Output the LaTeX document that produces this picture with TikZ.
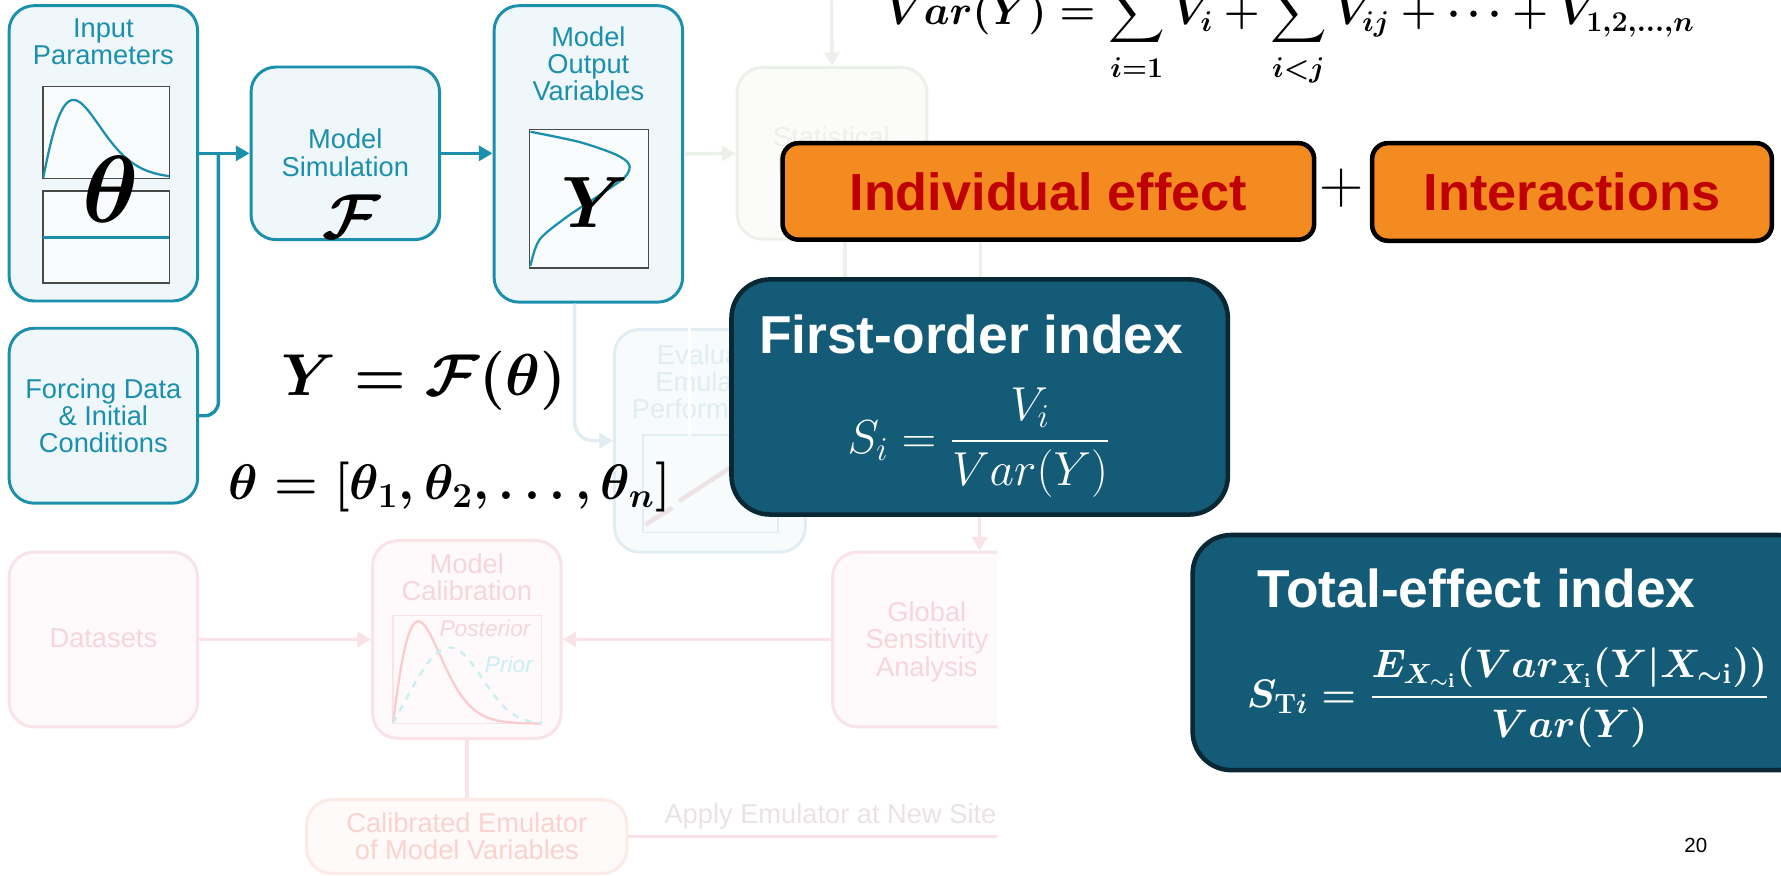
\RequirePackage{fix-cm}
\documentclass[tikz,border=0pt]{standalone}
\usepackage{amsmath}
\usepackage[no-math]{fontspec}
\setsansfont{Liberation Sans}
\usetikzlibrary{arrows.meta,positioning}

\definecolor{tealline}{HTML}{1C8FAD}
\definecolor{tealfill}{HTML}{EFF7FA}
\definecolor{darkfill}{HTML}{135B77}
\definecolor{darkedge}{HTML}{0A2833}
\definecolor{orangefill}{HTML}{F38B20}
\definecolor{redtext}{HTML}{C00000}
\definecolor{plotedge}{HTML}{4A4A4A}
\definecolor{fadepink}{HTML}{F9E3E7}
\definecolor{fadepinktext}{HTML}{F6D6DC}
\definecolor{fadeteal}{HTML}{E0EDF2}
\definecolor{fadegreen}{HTML}{EBF1E8}
\definecolor{fadeorange}{HTML}{FBEAE5}

\newcommand{\bigmath}[2]{{\boldmath\fontsize{#1}{#1}\selectfont$#2$}}

\tikzset{
  tbox/.style={draw=tealline, fill=tealfill, line width=1.3pt, rounded corners=11pt, inner sep=0pt},
  ttext/.style={text=#1, font=\fontsize{12}{12}\selectfont\sffamily, align=center},
  ttext/.default=tealline,
  fadebox/.style={draw=#1, fill=#1!22, line width=1.3pt, rounded corners=11pt, inner sep=0pt},
  tline/.style={draw=tealline, line width=1.5pt},
  tarrow/.style={tline, -{Triangle[length=6pt,width=6.5pt]}},
  farrow/.style={draw=#1, line width=1.5pt, -{Triangle[length=6pt,width=6.5pt]}},
  fline/.style={draw=#1, line width=1.5pt},
  dbox/.style={draw=darkedge, fill=darkfill, line width=2pt, rounded corners=17pt, inner sep=0pt},
  dtitle/.style={text=white, font=\fontsize{23.5}{24}\selectfont\sffamily\bfseries},
  obox/.style={draw=black, fill=orangefill, line width=2pt, rounded corners=7pt, text=redtext,
    font=\fontsize{23}{23}\selectfont\sffamily\bfseries},
}

\begin{document}
\begin{tikzpicture}[x=0.5pt, y=-0.5pt]
\useasboundingbox (0,0) rectangle (1568,771);
\clip (0,0) rectangle (1568,771);

% Faded part of the workflow (cut off on the right)
\begin{scope}
  \clip (0,0) rectangle (878,771);
  % Statistical emulator
  \node[fadebox=fadegreen, minimum width=83.5pt, minimum height=75.5pt] (stat) at (732.5,135) {};
  \node[ttext=fadegreen] (stattxt) at (732,132) {Statistical\\Emulator};
  \coordinate (stattop) at (732,0);
  \draw[farrow=fadegreen] (stattop) -- (stat.north);
  \foreach \x in {744,863}
    \draw[fline=fadegreen] (\x,211) -- (\x,300);
  % Emulator performance
  \node[fadebox=fadeteal, minimum width=84pt, minimum height=98pt] (eval) at (625,388) {};
  \node[ttext=fadeteal] (evaltxt) at (625,336) {Evaluate\\Emulator\\Performance};
  \draw[fadeteal, line width=0.6pt] (566,383) rectangle (685,469);
  \draw[fadepink!80!gray!60, line width=2pt] (568,462) -- (592,447);
  \draw[fadepink!80!gray!60, line width=2pt] (598,441) -- (644,411);
  \draw[white, line width=1.2pt] (607,288) -- (607,384);
  % Bottom row
  \node[fadebox=fadepink, minimum width=83pt, minimum height=77pt] (data) at (91,563) {};
  \node[ttext=fadepinktext] (datatxt) at (91,562) {Datasets};
  \node[fadebox=fadepink, minimum width=83pt, minimum height=87pt] (calib) at (411,563) {};
  \node[ttext=fadepinktext] (calibtxt) at (411,508) {Model\\Calibration};
  \draw[fadepink, line width=0.6pt] (346,542) rectangle (477,637);
  \draw[fadepink!90!red, line width=1pt] plot[domain=0.001:1, samples=70, smooth]
    ({346+131*\x}, {637-90*(\x/0.17)*exp((1-(\x/0.17)^1.5)/1.5)});
  \draw[fadeteal!90!cyan, line width=1pt, dashed] plot[domain=0.001:1, samples=70, smooth]
    ({346+131*\x}, {637-67*(\x/0.38)*exp((1-(\x/0.38)^3)/3)});
  \node[text=fadepinktext, font=\fontsize{10}{10}\selectfont\sffamily\itshape] (post) at (427,553) {Posterior};
  \node[text=fadeteal!90!cyan, font=\fontsize{10}{10}\selectfont\sffamily\itshape] (prior) at (448,585) {Prior};
  \node[fadebox=fadepink, minimum width=83.5pt, minimum height=77pt] (glob) at (816.5,563) {};
  \node[ttext=fadepinktext] (globtxt) at (816,565) {Global\\Sensitivity\\Analysis};
  \node[fadebox=fadeorange, minimum width=141pt, minimum height=32.5pt] (calem) at (411,736.5) {};
  \node[ttext=fadeorange!90!red] (calemtxt) at (411,736.5) {Calibrated Emulator\\of Model Variables};
  \node[ttext=fadepink!70!gray!50, anchor=west] (apply) at (578,719) {Apply Emulator at New Site};
  % Faded connectors
  \draw[farrow=fadepink] (data.east) -- (calib.west);
  \draw[farrow=fadepink] (glob.west) -- (calib.east);
  \draw[farrow=fadepink] ([xshift=23pt]glob.north |- 0,453) -- ([xshift=23pt]glob.north);
  \draw[fline=fadepink] (calib.south) -- (calem.north);
  \draw[fline=fadepink] (calem.east) -- ++(330,0);
\end{scope}

% Model chain
\node[tbox, minimum width=83pt, minimum height=130pt] (inp) at (91,135) {};
\node[ttext] (inptxt) at (91,37) {Input\\Parameters};
\node[tbox, minimum width=83pt, minimum height=77pt] (forc) at (91,366) {};
\node[ttext] (forctxt) at (91,366) {Forcing Data\\\& Initial\\Conditions};
\node[tbox, minimum width=83pt, minimum height=76pt] (sim) at (304,135) {};
\node[ttext] (simtxt) at (304,134.5) {Model\\Simulation};
\node (simF) at (310,191) {\bigmath{28}{\mathcal{F}}};
\node[tbox, minimum width=83pt, minimum height=130.5pt] (outp) at (518,135.5) {};
\node[ttext] (outptxt) at (518,56) {Model\\Output\\Variables};

% Parameter distributions
\draw[plotedge, line width=0.6pt, fill=white!60!tealfill] (38,76) rectangle (149,157);
\draw[plotedge, line width=0.6pt, fill=white!60!tealfill] (38,168) rectangle (149,249);
\draw[tealline, line width=1pt] plot[domain=0.001:1, samples=70, smooth]
  ({38+111*\x}, {157-69*(\x/0.24)*exp((1-(\x/0.24)^1.5)/1.5)});
\draw[tealline, line width=1pt] (38,209) -- (149,209);
\node (thbig) at (98,167) {\bigmath{42}{\theta}};

% Output distribution
\draw[plotedge, line width=0.6pt, fill=white!60!tealfill] (466,114) rectangle (571,236);
\draw[tealline, line width=1pt] plot[smooth] coordinates
  {(467,116) (510,125) (542,136) (554,145) (550,156) (526,173) (499,191) (475,211) (467,234)};
\node (ybig) at (524,178) {\bigmath{32}{Y}};

% Connectors
\coordinate (jn) at ([xshift=8.5pt]inp.east);
\draw[tarrow] (inp.east) -- (sim.west);
\draw[tline, rounded corners=6pt] (jn) |- (forc.east);
\draw[tarrow] (sim.east) -- (sim.east -| outp.west);
\draw[farrow=fadegreen] (outp.east) -- (stat.west);
\draw[farrow=fadeteal, rounded corners=8pt] ([xshift=-6pt]outp.south) |- (eval.west);

% Model equations
\node (yeq) at (373,335) {\bigmath{26}{Y=\mathcal{F}(\theta)}};
\node (theq) at (396,429) {\bigmath{22}{\theta=[\theta_1,\theta_2,\ldots,\theta_n]}};
\node[anchor=base] (vareq) at (1136,22)
  {\bigmath{18}{\displaystyle Var(Y)=\sum_{\rule{0pt}{11pt}i=1}V_i+\sum_{\rule{0pt}{11pt}i<j}V_{ij}+\cdots+V_{1,2,\ldots,n}}};

% Variance split
\node[obox, minimum width=234pt, minimum height=42.5pt] (indiv) at (923,168.5) {Individual effect};
\node (plus) at (1181,166) {\fontsize{27}{27}\selectfont$+$};
\node[obox, minimum width=176pt, minimum height=43pt] (inter) at (1384,169) {Interactions};

% Sensitivity indices
\node[dbox, minimum width=218.5pt, minimum height=103.5pt] (first) at (862.5,349.5) {};
\node[dtitle] (firsttl) at (855,294) {First-order index};
\node[text=white] (sieq) at (862,390) {\fontsize{21}{21}\selectfont$\displaystyle S_i=\frac{V_i}{Var(Y)}$};
\node[dbox, minimum width=275pt, minimum height=103.5pt] (total) at (1325,574.5) {};
\node[dtitle] (totaltl) at (1300,518) {Total-effect index};
\node[text=white] (steq) at (1328,614)
  {\bigmath{17.5}{\displaystyle S_{\mathrm{T}i}=\frac{E_{X_{\sim\mathrm{i}}}(Var_{X_{\mathrm{i}}}(Y|X_{\sim\mathrm{i}}))}{Var(Y)}}};

\node (pgnum) at (1493,744) {\fontsize{9}{9}\selectfont\sffamily 20};
\end{tikzpicture}
\end{document}
